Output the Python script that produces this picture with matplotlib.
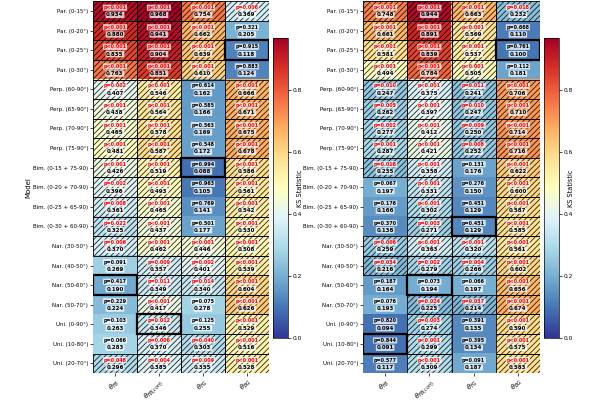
import numpy as np
import matplotlib
matplotlib.use("Agg")
import matplotlib.pyplot as plt
from matplotlib.patches import Rectangle

models = ["Par. (0-15°)", "Par. (0-20°)", "Par. (0-25°)", "Par. (0-30°)",
          "Perp. (60-90°)", "Perp. (65-90°)", "Perp. (70-90°)", "Perp. (75-90°)",
          "Bim. (0-15 + 75-90)", "Bim. (0-20 + 70-90)", "Bim. (0-25 + 65-90)", "Bim. (0-30 + 60-90)",
          "Nar. (30-50°)", "Nar. (40-50°)", "Nar. (50-60°)", "Nar. (50-70°)",
          "Uni. (0-90°)", "Uni. (10-80°)", "Uni. (20-70°)"]
columns = [r"$\theta_{FB}$", r"$\theta_{FB(corr)}$", r"$\theta_{FG}$", r"$\theta_{BG}$"]

# Left panel KS statistics (rows x columns)
ks_left = [
    [0.934, 0.968, 0.754, 0.369],
    [0.880, 0.941, 0.662, 0.205],
    [0.835, 0.904, 0.639, 0.118],
    [0.763, 0.851, 0.610, 0.124],
    [0.407, 0.546, 0.162, 0.666],
    [0.438, 0.564, 0.166, 0.671],
    [0.465, 0.578, 0.169, 0.675],
    [0.481, 0.587, 0.172, 0.678],
    [0.426, 0.519, 0.088, 0.586],
    [0.396, 0.493, 0.105, 0.561],
    [0.361, 0.465, 0.141, 0.542],
    [0.325, 0.437, 0.177, 0.530],
    [0.370, 0.462, 0.446, 0.508],
    [0.269, 0.357, 0.401, 0.539],
    [0.190, 0.349, 0.340, 0.604],
    [0.224, 0.417, 0.278, 0.626],
    [0.263, 0.346, 0.255, 0.529],
    [0.283, 0.370, 0.303, 0.516],
    [0.296, 0.385, 0.355, 0.528],
]
# p-values (0.0005 stands for p<0.001)
p_left = [
    [0.0005, 0.0005, 0.0005, 0.006],
    [0.0005, 0.0005, 0.0005, 0.321],
    [0.0005, 0.0005, 0.0005, 0.915],
    [0.0005, 0.0005, 0.0005, 0.883],
    [0.002, 0.0005, 0.614, 0.0005],
    [0.0005, 0.0005, 0.585, 0.0005],
    [0.0005, 0.0005, 0.563, 0.0005],
    [0.0005, 0.0005, 0.548, 0.0005],
    [0.0005, 0.0005, 0.994, 0.0005],
    [0.002, 0.0005, 0.963, 0.0005],
    [0.008, 0.0005, 0.769, 0.0005],
    [0.022, 0.0005, 0.501, 0.0005],
    [0.006, 0.0005, 0.0005, 0.0005],
    [0.091, 0.009, 0.002, 0.0005],
    [0.417, 0.011, 0.014, 0.0005],
    [0.229, 0.0005, 0.075, 0.0005],
    [0.103, 0.012, 0.125, 0.0005],
    [0.066, 0.006, 0.040, 0.0005],
    [0.048, 0.004, 0.009, 0.0005],
]

ks_right = [
    [0.748, 0.944, 0.663, 0.232],
    [0.661, 0.891, 0.569, 0.110],
    [0.581, 0.839, 0.537, 0.100],
    [0.494, 0.784, 0.505, 0.181],
    [0.247, 0.375, 0.241, 0.706],
    [0.262, 0.397, 0.247, 0.710],
    [0.277, 0.412, 0.250, 0.714],
    [0.287, 0.421, 0.252, 0.716],
    [0.235, 0.358, 0.176, 0.622],
    [0.197, 0.331, 0.150, 0.600],
    [0.166, 0.302, 0.129, 0.587],
    [0.138, 0.271, 0.129, 0.585],
    [0.259, 0.363, 0.320, 0.561],
    [0.216, 0.279, 0.266, 0.602],
    [0.164, 0.194, 0.197, 0.656],
    [0.193, 0.225, 0.214, 0.674],
    [0.094, 0.274, 0.135, 0.590],
    [0.091, 0.299, 0.134, 0.575],
    [0.117, 0.309, 0.187, 0.583],
]
p_right = [
    [0.0005, 0.0005, 0.0005, 0.018],
    [0.0005, 0.0005, 0.0005, 0.668],
    [0.0005, 0.0005, 0.0005, 0.761],
    [0.0005, 0.0005, 0.0005, 0.112],
    [0.010, 0.0005, 0.011, 0.0005],
    [0.005, 0.0005, 0.010, 0.0005],
    [0.002, 0.0005, 0.009, 0.0005],
    [0.001, 0.0005, 0.008, 0.0005],
    [0.016, 0.0005, 0.131, 0.0005],
    [0.067, 0.0005, 0.276, 0.0005],
    [0.176, 0.0005, 0.451, 0.0005],
    [0.370, 0.003, 0.451, 0.0005],
    [0.006, 0.0005, 0.0005, 0.0005],
    [0.034, 0.002, 0.004, 0.0005],
    [0.187, 0.073, 0.066, 0.0005],
    [0.076, 0.024, 0.037, 0.0005],
    [0.820, 0.003, 0.391, 0.0005],
    [0.844, 0.0005, 0.395, 0.0005],
    [0.577, 0.0005, 0.091, 0.0005],
]

vmax = max(np.max(ks_left), np.max(ks_right))
cmap = plt.get_cmap("RdYlBu_r")
plt.rcParams["hatch.linewidth"] = 0.5

fig = plt.figure(figsize=(6, 4), dpi=100)
fig.patch.set_facecolor("white")


def draw_panel(ax_rect, cax_rect, ks, pv, ylabel):
    ks = np.asarray(ks, float)
    pv = np.asarray(pv, float)
    nr, nc = ks.shape
    ax = fig.add_axes(ax_rect)
    im = ax.imshow(ks, cmap=cmap, vmin=0, vmax=vmax, aspect="auto", interpolation="nearest")
    for i in range(nr):
        for j in range(nc):
            p = pv[i, j]
            sig = p < 0.05
            if sig:
                ax.add_patch(Rectangle((j - 0.5, i - 0.5), 1, 1, fill=False, hatch="//////",
                                       edgecolor="black", linewidth=0.6))
            ptxt = "p<0.001" if p < 0.001 else f"p={p:.3f}"
            ax.text(j, i - 0.17, ptxt, ha="center", va="center", fontsize=3.5,
                    fontweight="bold", color="red" if sig else "black",
                    bbox=dict(boxstyle="round,pad=0.12", fc="white", ec="none", alpha=0.75))
            ax.text(j, i + 0.2, f"{ks[i, j]:.3f}", ha="center", va="center", fontsize=4.0,
                    fontweight="bold", color="black",
                    bbox=dict(boxstyle="round,pad=0.12", fc="white", ec="none", alpha=0.75))
    # highlight best (lowest KS) per column
    for j in range(nc):
        col = ks[:, j]
        i = nr - 1 - int(np.argmin(col[::-1]))
        ax.add_patch(Rectangle((j - 0.5, i - 0.5), 1, 1, fill=False,
                               edgecolor="black", linewidth=1.6, zorder=5))
    ax.set_xticks(range(nc))
    ax.set_xticklabels(columns, rotation=45, ha="right", rotation_mode="anchor", fontsize=4.8)
    ax.set_yticks(range(nr))
    ax.set_yticklabels(models, fontsize=4.0)
    ax.tick_params(axis="both", length=2, width=0.5, pad=1.5)
    ax.tick_params(axis="x", pad=1)
    for s in ax.spines.values():
        s.set_visible(False)
    ax.set_xlim(-0.5, nc - 0.5)
    ax.set_ylim(nr - 0.5, -0.5)
    if ylabel:
        ax.set_ylabel(ylabel, fontsize=5)
        ax.yaxis.set_label_coords(-0.35, 0.5)
    cax = fig.add_axes(cax_rect)
    cb = fig.colorbar(im, cax=cax)
    cb.set_ticks([0.0, 0.2, 0.4, 0.6, 0.8])
    cb.ax.tick_params(labelsize=4.2, length=2, width=0.5, pad=1.5)
    cb.outline.set_linewidth(0.5)
    cb.set_label("KS Statistic", fontsize=4.8)
    cb.ax.yaxis.set_label_coords(1.6, 0.5)
    return ax


draw_panel([0.155, 0.067, 0.293, 0.93], [0.455, 0.155, 0.025, 0.75], ks_left, p_left, "Model")
draw_panel([0.605, 0.067, 0.295, 0.93], [0.907, 0.155, 0.025, 0.75], ks_right, p_right, None)

fig.savefig("out.png", dpi=100, facecolor="white")
